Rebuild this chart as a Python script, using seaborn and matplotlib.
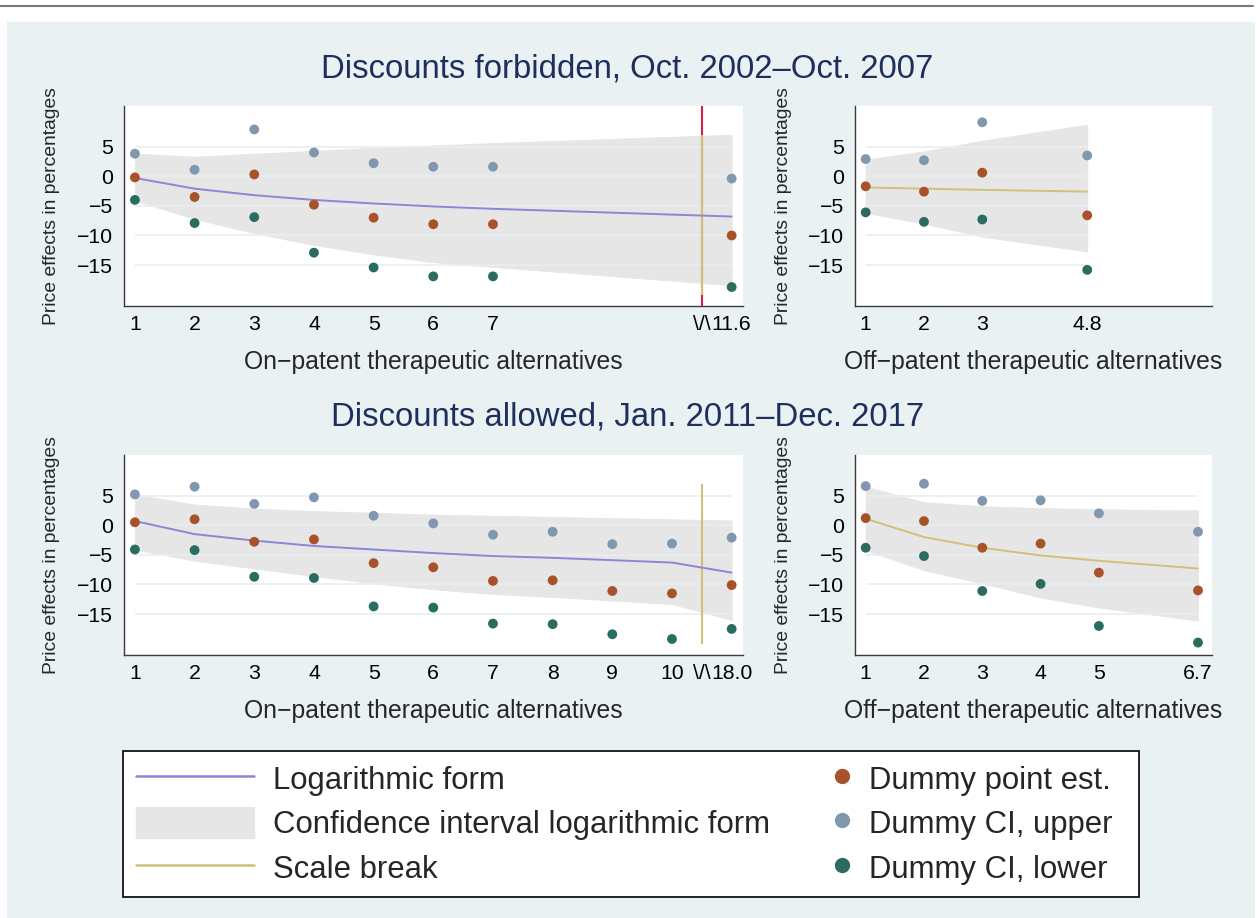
import matplotlib
matplotlib.use("Agg")
import matplotlib.pyplot as plt
from matplotlib.patches import Rectangle, Patch
from matplotlib.lines import Line2D
import numpy as np
import pandas as pd
import seaborn as sns

W, H = 1257, 918

# ---- data ----
y_ticks = [5, 0, -5, -10, -15]

# discounts forbidden, on-patent (last point is 11.6, drawn after the scale break)
tl_pos = [1, 2, 3, 4, 5, 6, 7, 11]
tl_point = [-0.2, -3.5, 0.3, -4.8, -7.0, -8.1, -8.1, -10.0]
tl_upper = [3.8, 1.1, 7.9, 4.0, 2.2, 1.6, 1.6, -0.4]
tl_lower = [-4.0, -7.9, -6.9, -12.9, -15.4, -16.9, -16.9, -18.7]
tl_log = [-0.3, -2.1, -3.2, -4.0, -4.6, -5.1, -5.5, -6.8]
tl_ci_hi = [3.8, 3.3, 3.8, 4.3, 4.8, 5.2, 5.6, 7.0]
tl_ci_lo = [-4.1, -7.2, -9.6, -11.6, -13.2, -14.5, -15.3, -18.4]
tl_ticks = [1, 2, 3, 4, 5, 6, 7, 8, 9, 10, 10.5, 11]
tl_ticklabels = ["1", "2", "3", "4", "5", "6", "7", "", "", "", "\\/\\", "11.6"]

# discounts forbidden, off-patent
tr_pos = [1, 2, 3, 4.8]
tr_point = [-1.7, -2.6, 0.6, -6.6]
tr_upper = [2.9, 2.7, 9.1, 3.5]
tr_lower = [-6.1, -7.7, -7.3, -15.8]
tr_log = [-1.9, -2.1, -2.3, -2.6]
tr_ci_hi = [2.8, 4.2, 6.0, 8.7]
tr_ci_lo = [-6.2, -8.0, -10.2, -12.7]
tr_ticks = [1, 2, 3, 4.8, 6.7]
tr_ticklabels = ["1", "2", "3", "4.8", ""]

# discounts allowed, on-patent (last point is 18.0, drawn after the scale break)
bl_pos = [1, 2, 3, 4, 5, 6, 7, 8, 9, 10, 11]
bl_point = [0.5, 1.0, -2.8, -2.4, -6.4, -7.1, -9.4, -9.3, -11.1, -11.5, -10.1]
bl_upper = [5.2, 6.5, 3.6, 4.7, 1.6, 0.3, -1.6, -1.1, -3.2, -3.1, -2.1]
bl_lower = [-4.1, -4.2, -8.7, -8.9, -13.7, -13.9, -16.6, -16.7, -18.4, -19.2, -17.5]
bl_log = [0.7, -1.5, -2.6, -3.5, -4.1, -4.7, -5.2, -5.5, -5.9, -6.3, -8.0]
bl_ci_hi = [5.2, 3.5, 2.8, 2.4, 2.1, 1.8, 1.6, 1.4, 1.2, 1.0, 0.8]
bl_ci_lo = [-4.1, -6.0, -7.3, -8.6, -9.8, -10.8, -11.6, -12.1, -12.7, -13.3, -16.0]
bl_ticks = [1, 2, 3, 4, 5, 6, 7, 8, 9, 10, 10.5, 11]
bl_ticklabels = ["1", "2", "3", "4", "5", "6", "7", "8", "9", "10", "\\/\\", "18.0"]

# discounts allowed, off-patent
br_pos = [1, 2, 3, 4, 5, 6.7]
br_point = [1.2, 0.7, -3.8, -3.1, -8.0, -11.0]
br_upper = [6.6, 7.0, 4.1, 4.2, 2.0, -1.1]
br_lower = [-3.8, -5.2, -11.1, -9.9, -17.0, -19.8]
br_log = [1.1, -2.0, -3.8, -5.1, -6.0, -7.3]
br_ci_hi = [6.5, 3.9, 3.2, 2.9, 2.7, 2.5]
br_ci_lo = [-4.2, -7.6, -9.8, -12.2, -13.9, -16.1]
br_ticks = [1, 2, 3, 4, 5, 6.7]
br_ticklabels = ["1", "2", "3", "4", "5", "6.7"]

# scale break marker
break_x = 10.5
break_lo, break_hi = -20.1, 7.0

# ---- colours ----
BG = "#eaf1f3"
GRID = "#e8eff1"
BAND = "#e6e6e6"
PURPLE = "#8c86d6"
KHAKI = "#cfc07a"
RED = "#d81e4a"
C_POINT = "#a8522a"
C_UPPER = "#8097ae"
C_LOWER = "#2a6c60"
TITLE = "#1e2f5e"
SPINE = "#3a3a3a"

sns.set_style("white")
plt.rcParams['font.family'] = ['Liberation Sans', 'DejaVu Sans']
plt.rcParams['axes.unicode_minus'] = True

fig = plt.figure(figsize=(W / 100, H / 100), dpi=100)
fig.patch.set_facecolor("white")

# background panel and the thin rule on top
fig.add_artist(Rectangle((7 / W, 0), (1254 - 7) / W, (918 - 22) / H,
                         transform=fig.transFigure, color=BG, zorder=-10))
fig.add_artist(Line2D([0, 1253 / W], [1 - 5.5 / H] * 2, transform=fig.transFigure,
                      color="#7a7a7a", lw=1.5))


def px_axes(left, top, right, bottom):
    return fig.add_axes([left / W, 1 - bottom / H, (right - left) / W, (bottom - top) / H])


def draw_panel(ax, pos, log, ci_hi, ci_lo, point, upper, lower, line_color,
               xlim, ticks, ticklabels, xlabel, scale_break=False, red_line=False):
    ax.set_facecolor("white")
    ax.fill_between(pos, ci_lo, ci_hi, color=BAND, lw=0.6, zorder=1)
    ax.hlines(y_ticks, pos[0], pos[-1], color=GRID, lw=1.2, zorder=2)
    if red_line:
        ax.axvline(break_x, color=RED, lw=1.5, zorder=3)
    if scale_break:
        ax.vlines(break_x, break_lo, break_hi, color=KHAKI, lw=1.5, zorder=4)

    df = pd.DataFrame({"pos": pos, "log": log, "point": point,
                       "upper": upper, "lower": lower})
    sns.lineplot(data=df, x="pos", y="log", color=line_color, lw=1.4, ax=ax, zorder=5)
    for col, c in [("upper", C_UPPER), ("point", C_POINT), ("lower", C_LOWER)]:
        sns.scatterplot(data=df, x="pos", y=col, color=c, s=50, edgecolor="none",
                        ax=ax, zorder=6)

    ax.set_xlim(*xlim)
    ax.set_ylim(-21.9, 11.85)
    ax.set_xticks(ticks)
    ax.set_xticklabels(ticklabels)
    ax.set_yticks(y_ticks)
    ax.set_yticklabels([str(v).replace("-", "\u2212") for v in y_ticks])
    ax.set_xlabel(xlabel, fontsize=17.8, labelpad=11)
    ax.set_ylabel("Price effects in percentages", fontsize=13.9, labelpad=12)

    ax.spines[["top", "right"]].set_visible(False)
    for s in ["left", "bottom"]:
        ax.spines[s].set_color(SPINE)
        ax.spines[s].set_linewidth(1.0)
    ax.tick_params(axis="both", direction="out", length=4.3, width=1.0,
                   color=SPINE, labelsize=15.3, labelcolor="black")
    ax.tick_params(axis="x", pad=2.5)
    ax.tick_params(axis="y", pad=3.5)
    ax.grid(False)


on_lim = (0.817, 11.19)
off_lim = (0.817, 6.94)

ax_tl = px_axes(124, 106, 743, 306)
draw_panel(ax_tl, tl_pos, tl_log, tl_ci_hi, tl_ci_lo, tl_point, tl_upper, tl_lower,
           PURPLE, on_lim, tl_ticks, tl_ticklabels,
           "On\u2212patent therapeutic alternatives", scale_break=True, red_line=True)

ax_tr = px_axes(855, 106, 1212, 306)
draw_panel(ax_tr, tr_pos, tr_log, tr_ci_hi, tr_ci_lo, tr_point, tr_upper, tr_lower,
           KHAKI, off_lim, tr_ticks, tr_ticklabels,
           "Off\u2212patent therapeutic alternatives")

ax_bl = px_axes(124, 455, 743, 655)
draw_panel(ax_bl, bl_pos, bl_log, bl_ci_hi, bl_ci_lo, bl_point, bl_upper, bl_lower,
           PURPLE, on_lim, bl_ticks, bl_ticklabels,
           "On\u2212patent therapeutic alternatives", scale_break=True)

ax_br = px_axes(855, 455, 1212, 655)
draw_panel(ax_br, br_pos, br_log, br_ci_hi, br_ci_lo, br_point, br_upper, br_lower,
           KHAKI, off_lim, br_ticks, br_ticklabels,
           "Off\u2212patent therapeutic alternatives")

# panel row titles
fig.text(627.5 / W, 1 - 77 / H, "Discounts forbidden, Oct. 2002\u2013Oct. 2007",
         ha="center", va="baseline", fontsize=23.7, color=TITLE)
fig.text(627.5 / W, 1 - 425 / H, "Discounts allowed, Jan. 2011\u2013Dec. 2017",
         ha="center", va="baseline", fontsize=23.7, color=TITLE)

# legend: frame plus two columns
fig.add_artist(Rectangle((122.5 / W, 1 - 897 / H), (1139 - 122.5) / W, (897 - 751) / H,
                         transform=fig.transFigure, facecolor="white",
                         edgecolor="black", lw=1.2, zorder=1))

LEG_FS = 22.4
left_handles = [Line2D([], [], color=PURPLE, lw=1.8),
                Patch(facecolor=BAND, edgecolor=BAND),
                Line2D([], [], color=KHAKI, lw=1.8)]
left_labels = ["Logarithmic form", "Confidence interval logarithmic form", "Scale break"]
fig.legend(left_handles, left_labels, loc="upper left",
           bbox_to_anchor=(136 / W, 1 - 763 / H), frameon=False, fontsize=LEG_FS,
           handlelength=3.78, handleheight=1.15, handletextpad=0.61,
           labelspacing=0.37, borderpad=0, borderaxespad=0)

right_handles = [Line2D([], [], ls="", marker="o", markersize=11, color=c,
                        markeredgewidth=0)
                 for c in [C_POINT, C_UPPER, C_LOWER]]
right_labels = ["Dummy point est.", "Dummy CI, upper", "Dummy CI, lower"]
fig.legend(right_handles, right_labels, loc="upper left",
           bbox_to_anchor=(832.3 / W, 1 - 763 / H), frameon=False, fontsize=LEG_FS,
           handlelength=0.6, handleheight=1.15, handletextpad=0.58,
           labelspacing=0.37, borderpad=0, borderaxespad=0)

fig.savefig("out.png", dpi=100, facecolor="white")
plt.close(fig)
